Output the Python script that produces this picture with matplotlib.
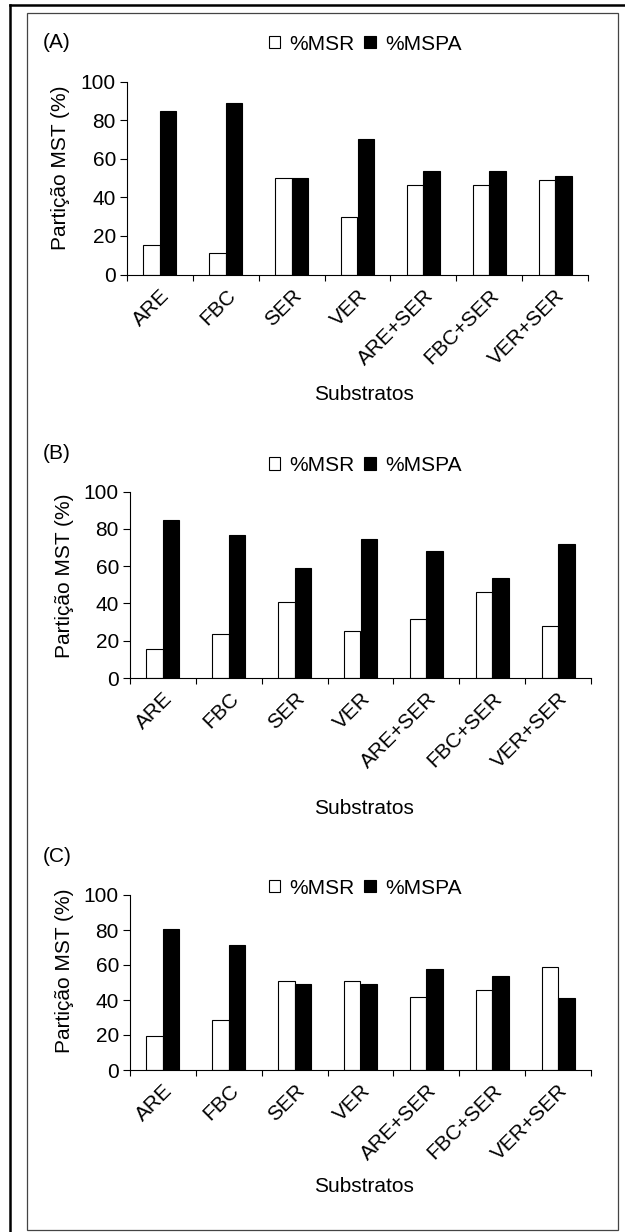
import matplotlib
matplotlib.use("Agg")
import matplotlib.pyplot as plt
from matplotlib.patches import Patch, Rectangle
from matplotlib.lines import Line2D
from matplotlib.transforms import ScaledTranslation
import numpy as np

plt.rcParams['font.family'] = ['Liberation Sans', 'DejaVu Sans']

# data
categories = ['ARE', 'FBC', 'SER', 'VER', 'ARE+SER', 'FBC+SER', 'VER+SER']
msr_a = [15.1, 11.3, 49.8, 29.6, 46.4, 46.4, 49.1]
mspa_a = [84.9, 88.7, 50.2, 70.4, 53.6, 53.6, 50.9]
msr_b = [15.3, 23.5, 40.8, 25.3, 31.7, 46.3, 28.1]
mspa_b = [84.7, 76.5, 59.2, 74.7, 68.3, 53.7, 71.9]
msr_c = [19.7, 28.3, 51.0, 51.0, 42.0, 46.0, 58.8]
mspa_c = [80.3, 71.7, 49.0, 49.0, 58.0, 54.0, 41.2]
panel_names = ['(A)', '(B)', '(C)']
yticks = [0, 20, 40, 60, 80, 100]

W, H = 625, 1232
fig = plt.figure(figsize=(W / 100, H / 100), dpi=100)

def fx(px):
    return px / W

def fy(py):
    return 1 - py / H

# pixel layout of each panel: axes box, panel letter, legend, y label, x label
layout = [
    dict(ax=(127, 588, 81.5, 274.5), tag=42, leg=44, ylab=(61, 168), xlab=394),
    dict(ax=(130, 591, 491.7, 678), tag=454, leg=465.5, ylab=(64, 576), xlab=809),
    dict(ax=(130, 591, 895, 1070), tag=857, leg=888, ylab=(64, 971), xlab=1187),
]
series = [(msr_a, mspa_a), (msr_b, mspa_b), (msr_c, mspa_c)]
fs = 15

x = np.arange(len(categories))
w = 0.25
shift = ScaledTranslation(-0.12, 0, fig.dpi_scale_trans)
for name, (msr, mspa), lay in zip(panel_names, series, layout):
    l, r, t, b = lay['ax']
    ax = fig.add_axes([fx(l), fy(b), fx(r - l), (b - t) / H])
    ax.bar(x - w / 2, msr, w, color='white', edgecolor='black', linewidth=0.8)
    ax.bar(x + w / 2, mspa, w, color='black', edgecolor='black', linewidth=0.8)
    ax.set_xlim(-0.5, len(categories) - 0.5)
    ax.set_ylim(0, 100)
    ax.set_yticks(yticks)
    ax.set_xticks(x)
    ax.set_xticklabels(categories, rotation=45, ha='right', rotation_mode='anchor')
    for lbl in ax.get_xticklabels():
        lbl.set_transform(lbl.get_transform() + shift)
    ax.set_xticks(np.arange(-0.5, len(categories)), minor=True)
    ax.tick_params(axis='x', which='major', length=0, pad=8, labelsize=fs)
    ax.tick_params(axis='x', which='minor', length=4, width=0.8, direction='out')
    ax.tick_params(axis='y', length=5, width=0.8, direction='out', labelsize=fs, pad=3)
    for s in ['top', 'right']:
        ax.spines[s].set_visible(False)
    for s in ['left', 'bottom']:
        ax.spines[s].set_linewidth(0.8)
    ax.set_facecolor('none')

    fig.text(fx(43), fy(lay['tag']), name, fontsize=fs, ha='left', va='center')
    fig.text(fx(lay['ylab'][0]), fy(lay['ylab'][1]), 'Partição MST (%)',
             fontsize=fs, rotation=90, ha='center', va='center')
    fig.text(fx(364), fy(lay['xlab']), 'Substratos', fontsize=fs, ha='center', va='center')

    handles = [Patch(facecolor='white', edgecolor='black', linewidth=0.8, label='%MSR'),
               Patch(facecolor='black', edgecolor='black', linewidth=0.8, label='%MSPA')]
    fig.legend(handles=handles, loc='center', bbox_to_anchor=(fx(365), fy(lay['leg'])),
               ncol=2, frameon=False, fontsize=fs, handlelength=0.55, handleheight=0.55,
               handletextpad=0.45, columnspacing=0.45, borderpad=0, borderaxespad=0)

# frames around the figure
fig.add_artist(Line2D([fx(10), fx(10)], [fy(5), 0], color='black', linewidth=1.8))
fig.add_artist(Line2D([fx(10), 1], [fy(5), fy(5)], color='black', linewidth=1.8))
fig.add_artist(Rectangle((fx(27), fy(1230)), fx(618 - 27), (1230 - 13) / H,
                         transform=fig.transFigure, fill=False, edgecolor='#444444', linewidth=0.9))

fig.savefig('out.png', dpi=100)
